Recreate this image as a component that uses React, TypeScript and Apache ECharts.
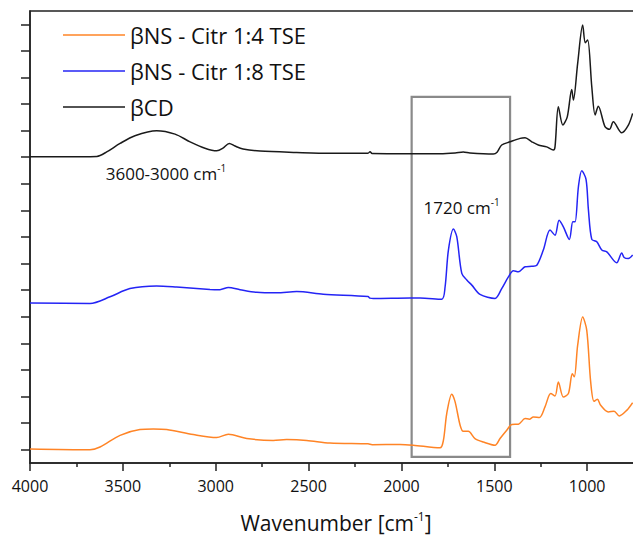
import React, { useEffect, useRef } from "react";
import * as echarts from "echarts";

const seriesNames = ["βNS - Citr 1:4 TSE", "βNS - Citr 1:8 TSE", "βCD"];
const seriesColors = ["#FF8426", "#2424F5", "#1a1a1a"];

// βCD (top trace)
const cdWn = [4000, 3730, 3640, 3587, 3515, 3435, 3318, 3219, 3138, 3058, 2995, 2961, 2927, 2896, 2853, 2761, 2564, 2385, 2180, 2169, 2158, 1954, 1792, 1711, 1667, 1631, 1505, 1485, 1460, 1415, 1361, 1334, 1298, 1263, 1218, 1182, 1173, 1155, 1131, 1107, 1083, 1074, 1051, 1024, 1010, 997, 975, 957, 940, 904, 880, 859, 814, 778, 755];
const cdAbs = [11.52, 11.52, 11.53, 11.7, 12.02, 12.31, 12.5, 12.37, 12.08, 11.84, 11.74, 11.84, 12.02, 11.92, 11.81, 11.73, 11.68, 11.65, 11.65, 11.71, 11.64, 11.63, 11.63, 11.66, 11.7, 11.66, 11.62, 11.69, 11.96, 12.08, 12.21, 12.23, 12.08, 11.96, 11.89, 11.77, 11.89, 13.4, 12.71, 13.02, 14.05, 13.65, 15.03, 16.47, 15.81, 15.91, 14.15, 13.09, 13.42, 12.65, 12.55, 12.83, 12.42, 12.71, 13.15];

// βNS - Citr 1:8 TSE (middle trace)
const ns8Wn = [4000, 3677, 3569, 3462, 3318, 3210, 3031, 2977, 2932, 2869, 2779, 2671, 2564, 2421, 2180, 2169, 2151, 1954, 1900, 1783, 1765, 1747, 1720, 1702, 1675, 1648, 1621, 1577, 1496, 1460, 1424, 1397, 1370, 1334, 1298, 1271, 1236, 1200, 1173, 1151, 1128, 1096, 1077, 1065, 1047, 1029, 1006, 993, 975, 948, 921, 894, 841, 814, 801, 778, 755];
const ns8Abs = [6.02, 6.0, 6.25, 6.56, 6.66, 6.62, 6.53, 6.52, 6.6, 6.52, 6.42, 6.4, 6.45, 6.35, 6.26, 6.2, 6.19, 6.21, 6.21, 6.16, 6.62, 8.01, 8.8, 8.51, 7.13, 6.88, 6.69, 6.34, 6.19, 6.56, 7.0, 7.23, 7.19, 7.38, 7.4, 7.44, 8.01, 8.76, 8.57, 9.13, 8.88, 8.41, 9.07, 9.07, 10.39, 10.99, 10.67, 9.51, 8.41, 8.32, 8.01, 7.94, 7.53, 7.9, 7.73, 7.69, 7.82];

// βNS - Citr 1:4 TSE (bottom trace)
const ns4Wn = [4000, 3677, 3623, 3515, 3408, 3336, 3264, 3121, 2995, 2932, 2833, 2690, 2618, 2510, 2385, 2180, 2158, 2008, 1936, 1792, 1774, 1756, 1729, 1711, 1684, 1667, 1640, 1604, 1559, 1496, 1469, 1433, 1406, 1370, 1334, 1311, 1290, 1257, 1227, 1196, 1173, 1155, 1128, 1101, 1080, 1069, 1051, 1024, 1002, 981, 963, 945, 927, 886, 855, 827, 787, 755];
const ns4Abs = [0.53, 0.5, 0.6, 1.04, 1.26, 1.28, 1.26, 1.07, 0.96, 1.08, 0.92, 0.85, 0.88, 0.85, 0.75, 0.72, 0.69, 0.7, 0.67, 0.57, 0.85, 1.86, 2.59, 2.3, 1.42, 1.19, 1.19, 0.92, 0.79, 0.67, 0.92, 1.23, 1.45, 1.46, 1.67, 1.65, 1.73, 1.71, 2.11, 2.61, 2.52, 3.05, 2.48, 2.61, 3.36, 3.24, 4.43, 5.49, 4.99, 3.05, 2.32, 2.4, 2.17, 1.92, 1.95, 1.77, 1.98, 2.27];

const yTickSlots = ["", "", "", "", "", "", "", "", "", "", "", "", "", "", "", "", ""];

// Highlighted region (1720 cm-1 band)
const boxWn = [1945, 1415];
const boxAbs = [0.23, 13.77];

const FONT = "'Open Sans', sans-serif";

function zip(xs: number[], ys: number[]) {
  return xs.map((x, i) => [x, ys[i]]);
}

export default function App() {
  const ref = useRef<HTMLDivElement>(null);
  useEffect(() => {
    if (!ref.current) return;
    const chart = echarts.init(ref.current, undefined, { renderer: "svg" });
    const axisColor = "#222";
    chart.setOption({
      animation: false,
      backgroundColor: "#fff",
      textStyle: { fontFamily: FONT },
      grid: {
        left: 30,
        right: 0,
        top: 11,
        bottom: 75,
        outerBoundsMode: "none",
        containLabel: false,
        show: true,
        borderColor: axisColor,
        borderWidth: 1.5,
        backgroundColor: "transparent",
      },
      legend: {
        left: 58,
        top: 17,
        orient: "vertical",
        icon: "rect",
        itemWidth: 62,
        itemHeight: 1.5,
        itemGap: 10,
        data: seriesNames,
        textStyle: { fontFamily: FONT, fontSize: 22, lineHeight: 26, color: "#111" },
      },
      xAxis: {
        type: "value",
        min: 500,
        max: 4000,
        interval: 500,
        inverse: true,
        name: "{a|Wavenumber [cm}{s|-1}{a|]}",
        nameLocation: "middle",
        nameGap: 47,
        nameTextStyle: {
          padding: [0, 38, 0, 0],
          rich: {
            a: { fontFamily: FONT, fontSize: 21, color: "#111", lineHeight: 26 },
            s: { fontFamily: FONT, fontSize: 12, color: "#111", lineHeight: 14, verticalAlign: "top" },
          },
        },
        axisLine: { show: true, lineStyle: { color: axisColor, width: 1.5 } },
        axisTick: { show: true, length: 8, lineStyle: { color: axisColor, width: 1.5 } },
        minorTick: { show: true, splitNumber: 2, length: 4, lineStyle: { color: axisColor, width: 1.5 } },
        axisLabel: {
          fontFamily: FONT,
          fontSize: 16,
          color: "#111",
          margin: 15,
          formatter: (v: number) => (v < 750 ? "" : String(v)),
        },
        splitLine: { show: false },
      },
      yAxis: [
        {
          type: "category",
          data: yTickSlots,
          boundaryGap: true,
          axisLine: { show: true, lineStyle: { color: axisColor, width: 1.5 } },
          axisTick: { show: true, alignWithLabel: true, length: 9, lineStyle: { color: axisColor, width: 1.5 } },
          axisLabel: { show: false },
          splitLine: { show: false },
        },
        {
          type: "value",
          min: 0,
          max: 17,
          show: false,
          splitLine: { show: false },
        },
      ],
      series: [
        {
          name: seriesNames[0],
          type: "line",
          yAxisIndex: 1,
          data: zip(ns4Wn, ns4Abs),
          symbol: "none",
          smooth: 0.3,
          lineStyle: { color: seriesColors[0], width: 1.5 },
          itemStyle: { color: seriesColors[0] },
          markArea: {
            silent: true,
            itemStyle: { color: "rgba(0,0,0,0)", borderColor: "#8a8a8a", borderWidth: 2.2 },
            data: [[{ xAxis: boxWn[0], yAxis: boxAbs[0] }, { xAxis: boxWn[1], yAxis: boxAbs[1] }]],
          },
        },
        {
          name: seriesNames[1],
          type: "line",
          yAxisIndex: 1,
          data: zip(ns8Wn, ns8Abs),
          symbol: "none",
          smooth: 0.3,
          lineStyle: { color: seriesColors[1], width: 1.5 },
          itemStyle: { color: seriesColors[1] },
          markPoint: {
            symbol: "circle",
            symbolSize: 0,
            silent: true,
            label: {
              show: true,
              formatter: "{a|1720 cm}{s|-1}",
              rich: {
                a: { fontFamily: FONT, fontSize: 17, color: "#111", lineHeight: 22 },
                s: { fontFamily: FONT, fontSize: 10, color: "#111", lineHeight: 12, verticalAlign: "top" },
              },
            },
            data: [{ coord: [1676, 9.6] }],
          },
        },
        {
          name: seriesNames[2],
          type: "line",
          yAxisIndex: 1,
          data: zip(cdWn, cdAbs),
          symbol: "none",
          smooth: 0.3,
          lineStyle: { color: seriesColors[2], width: 1.5 },
          itemStyle: { color: seriesColors[2] },
          markPoint: {
            symbol: "circle",
            symbolSize: 0,
            silent: true,
            label: {
              show: true,
              formatter: "{a|3600-3000 cm}{s|-1}",
              rich: {
                a: { fontFamily: FONT, fontSize: 17, color: "#111", lineHeight: 20 },
                s: { fontFamily: FONT, fontSize: 10, color: "#111", lineHeight: 11, verticalAlign: "top" },
              },
            },
            data: [{ coord: [3268, 10.9] }],
          },
        },
      ],
    });
    return () => chart.dispose();
  }, []);
  return (
    <div style={{ position: "fixed", left: 0, top: 0, width: 633, height: 538, overflow: "hidden", background: "#fff" }}>
      <div ref={ref} style={{ width: 680, height: 538 }} />
    </div>
  );
}
